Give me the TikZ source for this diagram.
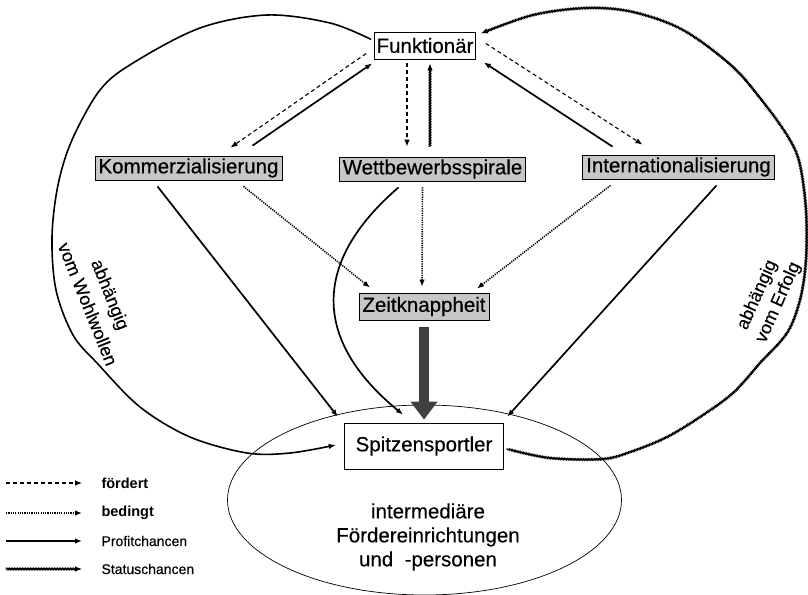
\documentclass[tikz,border=0pt]{standalone}
\usepackage{fontspec}
\setmainfont{Liberation Sans}
\newfontfamily\heavyfont{Liberation Sans}[FakeBold=0.5]
\newfontfamily\medfont{Liberation Sans}[FakeBold=0.25]
\usetikzlibrary{arrows.meta,calc,decorations.pathmorphing}
\begin{document}
\begin{tikzpicture}[x=1pt,y=-1pt,
  >={Latex[length=7pt,width=5.5pt]},
  bigfont/.style={font=\medfont\fontsize{20.5}{24}\selectfont},
  box/.style={draw, line width=0.8pt, fill=white, bigfont, inner xsep=2pt, inner ysep=0pt, minimum height=27pt},
  shadebox/.style={draw, line width=0.8pt, fill=black!22, font=\heavyfont\fontsize{20.5}{24}\selectfont, inner xsep=3.5pt, inner ysep=0pt, minimum height=24pt},
  ford/.style={->, line width=1.1pt, dash pattern=on 4pt off 3pt},
  bed/.style={->, line width=1.6pt, dash pattern=on 1.2pt off 1.1pt},
  profit/.style={->, line width=1.7pt},
  status/.style={->, line width=1.1pt, decorate, decoration={zigzag, amplitude=0.7pt, segment length=1.6pt, post length=5pt}},
  rotlabel/.style={font=\medfont\fontsize{18}{21}\selectfont},
  legtext/.style={anchor=west, font=\medfont\fontsize{14}{16}\selectfont},
  legbold/.style={anchor=west, font=\bfseries\fontsize{14.5}{16}\selectfont}]
\useasboundingbox (0,0) rectangle (808,594);

% ellipse of intermediaries
\draw[line width=0.7pt] (424.5,500) ellipse [x radius=197, y radius=95];
\node[bigfont, align=center] (inter) at (428,537) {intermediäre\\Fördereinrichtungen\\und \ -personen};

% nodes
\node[box] (F) at (425,45.5) {Funktionär};
\node[shadebox] (K) at (188.5,168) {Kommerzialisierung};
\node[shadebox] (W) at (432.5,169) {Wettbewerbsspirale};
\node[shadebox] (I) at (678.5,167) {Internationalisierung};
\node[shadebox, minimum height=27pt] (Z) at (424,306.5) {Zeitknappheit};
\node[draw, line width=0.8pt, fill=white, bigfont, inner xsep=11.5pt, minimum height=46pt] (S) at (424,446) {Spitzensportler};

% Funktionaer <-> second row
\draw[ford] ($(F.west)+(-8,8)$) -- ($(K.north)+(42,-8)$);
\draw[profit] ($(K.north)+(64,-10)$) -- ($(F.south west)+(-2,4)$);
\draw[ford] ($(F.south)+(-18,4)$) -- ($(W.north)+(-25.5,-10)$);
\draw[status] ($(W.north)+(-2.5,-10)$) -- ($(F.south)+(5,4)$);
\draw[ford] ($(F.east)+(10,-2)$) -- ($(I.north)+(-36,-10)$);
\draw[profit] ($(I.north)+(-66,-8)$) -- ($(F.south east)+(8,3)$);

% second row -> Zeitknappheit
\draw[bed] ($(K.south)+(55,6)$) -- ($(Z.north)+(-54,-5)$);
\draw[bed] ($(W.south)+(-10,6)$) -- ($(Z.north)+(-2,-6)$);
\draw[bed] ($(I.south)+(-68,6)$) -- ($(Z.north)+(53,-4)$);

% to Spitzensportler
\draw[profit] ($(K.south)+(-31,6)$) -- ($(S.north west)+(-6,-6)$);
\draw[profit] ($(W.south)+(-34,6)$) .. controls (312,262) and (312,340) .. ($(S.north)+(-21,-8)$);
\draw[profit] ($(I.south)+(38,6)$) -- ($(S.north east)+(3,-6)$);
\draw[line width=10pt, black!75, -{Triangle[length=18pt,width=26pt]}] ($(Z.south)+(0,7)$) -- ($(S.north)+(0,-3)$);

% big arcs
\coordinate (la) at ($(F.west)+(-3,-6)$);
\coordinate (lb) at ($(S.west)+(-8,-1)$);
\draw[profit, line width=1.6pt] plot[smooth, tension=0.55] coordinates {(la) (330,23) (267,15) (200,28) (133,63) (100,90) (72,140) (58,185) (52,237) (56,290) (73,335) (97,363) (140,407) (190,437) (247,453) (290,453) (lb)};
\coordinate (ra) at ($(S.east)+(3,3)$);
\coordinate (rb) at ($(F.east)+(5,-12)$);
\draw[status] plot[smooth, tension=0.55] coordinates {(ra) (550,458) (603,459) (633,451) (667,437) (700,417) (733,393) (760,363) (787,333) (800,300) (806,260) (806,210) (800,165) (790,140) (767,107) (733,67) (683,30) (633,12) (587,8) (533,15) (rb)};

% rotated labels
\node[rotlabel, rotate=-68] (lw1) at (109,295) {abhängig};
\node[rotlabel, rotate=-68] (lw2) at (88,304) {vom Wohlwollen};
\node[rotlabel, rotate=66] (le1) at (757.5,295) {abhängig};
\node[rotlabel, rotate=66] (le2) at (778.5,302.5) {vom Erfolg};

% legend
\coordinate (l1a) at (6,483); \coordinate (l1b) at (82,483);
\coordinate (l2a) at (6,513); \coordinate (l2b) at (82,513);
\coordinate (l3a) at (6,541); \coordinate (l3b) at (82,541);
\coordinate (l4a) at (6,569); \coordinate (l4b) at (82,569);
\draw[ford] (l1a) -- (l1b);
\draw[bed] (l2a) -- (l2b);
\draw[profit] (l3a) -- (l3b);
\draw[status] (l4a) -- (l4b);
\node[legbold] (t1) at (98,483) {fördert};
\node[legbold] (t2) at (98,513) {bedingt};
\node[legtext] (t3) at (98,541) {Profitchancen};
\node[legtext] (t4) at (98,569) {Statuschancen};
\end{tikzpicture}
\end{document}
